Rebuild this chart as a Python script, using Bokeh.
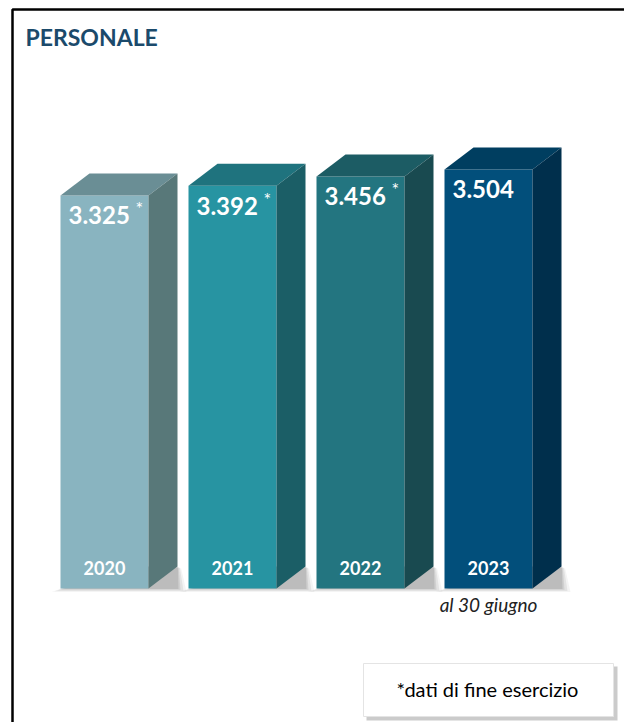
from bokeh.plotting import figure
from bokeh.models import Range1d
from bokeh.core.properties import value
from bokeh.embed import file_html
from bokeh.resources import INLINE

# ---------------- data ----------------
years = ["2020", "2021", "2022", "2023"]
staff = [3325, 3392, 3456, 3504]
value_labels = ["3.325", "3.392", "3.456", "3.504"]
year_end_flag = [True, True, True, False]
front_colors = ["#89b4c0", "#2794a2", "#237580", "#024f7b"]
top_colors = ["#6a8e95", "#1f737e", "#1c5c64", "#003e60"]
side_colors = ["#587879", "#1b5e66", "#194a50", "#002f4c"]
title_text = "PERSONALE"
footnote_text = "*dati di fine esercizio"
subnote_text = "al 30 giugno"

# ---------------- layout ----------------
W, H = 624, 722
BASE = 614                      # value at the floor of the bars
px_x = 128.0                    # pixels per category step
px_y = 0.145                    # pixels per unit of value
X0 = -104 / px_x
X1 = X0 + W / px_x
Y1 = BASE + 588 / px_y
Y0 = Y1 - H / px_y
TXT = 8                         # vertical correction for text placement (px)


def dx(px):
    return px / px_x


def dy(px):
    return px / px_y


def PX(x):  # page pixel -> data x
    return X0 + x / px_x


def PY(y):  # page pixel -> data y
    return Y1 - y / px_y


BAR_W = dx(88)
DX = dx(29)
DY = dy(22)
FONT = value("Lato")

p = figure(width=W, height=H, x_range=Range1d(X0, X1), y_range=Range1d(Y0, Y1),
           output_backend="svg", toolbar_location=None, min_border=0)
p.axis.visible = False
p.grid.visible = False
p.outline_line_color = None
p.background_fill_color = "white"
p.border_fill_color = "white"

idx = list(range(len(years)))
x0s = [i - BAR_W / 2 for i in idx]
x1s = [i + BAR_W / 2 for i in idx]

# soft floor shadows (layered)
for grow, alpha in [(9, 0.08), (6, 0.12), (3, 0.16), (1, 0.20)]:
    sh_xs = [[a - dx(grow), b + DX + dx(grow), b + DX + dx(grow * 0.4), b] for a, b in zip(x0s, x1s)]
    sh_ys = [[BASE - dy(grow * 0.4), BASE - dy(grow * 0.4), BASE + DY - dy(grow * 0.2), BASE + DY]
             for _ in idx]
    p.patches(sh_xs, sh_ys, fill_color="#6e6e6e", fill_alpha=alpha, line_color=None)

# front faces
p.vbar(x=idx, top=staff, bottom=BASE, width=BAR_W, fill_color=front_colors, line_color=None)

# top faces
top_xs = [[a, b, b + DX, a + DX] for a, b in zip(x0s, x1s)]
top_ys = [[v, v, v + DY, v + DY] for v in staff]
p.patches(top_xs, top_ys, fill_color=top_colors, line_color=None)

# side faces
side_xs = [[b, b + DX, b + DX, b] for b in x1s]
side_ys = [[BASE, BASE + DY, v + DY, v] for v in staff]
p.patches(side_xs, side_ys, fill_color=side_colors, line_color=None)

# value labels
lab_x = [a + dx(8) for a in x0s]
lab_y = [v - dy(28 - TXT) for v in staff]
p.text(x=lab_x, y=lab_y, text=value_labels, text_font=FONT, text_font_style="bold",
       text_font_size="24px", text_color="white", text_align="left",
       text_baseline="alphabetic")

star_x = [lx + dx(67) for lx, f in zip(lab_x, year_end_flag) if f]
star_y = [v - dy(2) for v, f in zip(staff, year_end_flag) if f]
p.text(x=star_x, y=star_y, text=["*"] * len(star_x), text_font=FONT,
       text_font_size="18px", text_color="white", text_align="left", text_baseline="top")

# year labels
p.text(x=idx, y=[BASE + dy(13 + TXT)] * len(idx), text=years, text_font=FONT,
       text_font_style="bold", text_font_size="18px", text_color="white",
       text_align="center", text_baseline="alphabetic")

# sub note under last bar
p.text(x=[idx[-1]], y=[PY(612 - TXT)], text=[subnote_text], text_font=FONT,
       text_font_style="italic", text_font_size="19px", text_color="#222222",
       text_align="center", text_baseline="alphabetic")

# title
p.text(x=[PX(25)], y=[PY(44 - TXT)], text=[title_text], text_font=FONT, text_font_style="bold",
       text_font_size="23px", text_color="#1b4a6b", text_align="left",
       text_baseline="alphabetic")

# frame (top and left edges; right and bottom lie outside the picture)
p.line([PX(12), PX(12), PX(700)], [PY(800), PY(9), PY(9)], line_color="black", line_width=2.5)

# footnote box
p.quad(left=PX(366), right=PX(617), top=PY(666), bottom=PY(720), fill_color="#8c8c8c",
       fill_alpha=0.45, line_color=None)
p.quad(left=PX(363), right=PX(613), top=PY(663), bottom=PY(716), fill_color="white",
       line_color="#e4e4e4", line_width=1)
p.text(x=[PX(487)], y=[PY(696 - TXT)], text=[footnote_text], text_font=FONT,
       text_font_size="20px", text_color="black", text_align="center",
       text_baseline="alphabetic")

open("out.html", "w").write(file_html(p, INLINE))
